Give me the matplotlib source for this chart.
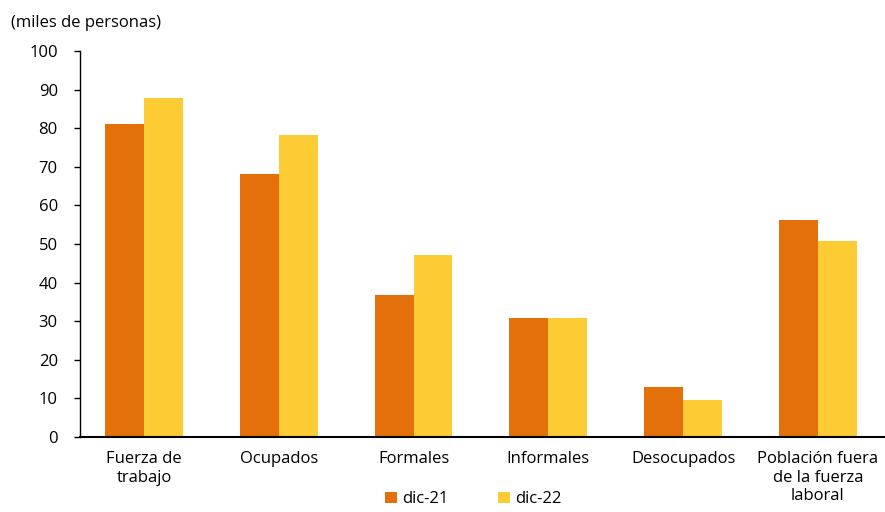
import numpy as np
import matplotlib.pyplot as plt

categorias = ["Fuerza de\ntrabajo", "Ocupados", "Formales", "Informales",
              "Desocupados", "Población fuera\nde la fuerza\nlaboral"]
dic21 = [81.1, 68.1, 36.8, 30.8, 13.0, 56.2]
dic22 = [87.8, 78.2, 47.2, 30.8, 9.6, 50.8]

plt.rcParams['font.family'] = ['Open Sans', 'DejaVu Sans']

fig = plt.figure(figsize=(8.85, 5.12), dpi=100)
ax = fig.add_axes([0.0904, 0.1465, 0.9085, 0.754])

x = np.arange(len(categorias))
w = 0.289
ax.bar(x - w / 2, dic21, w, color='#E3700B', label='dic-21')
ax.bar(x + w / 2, dic22, w, color='#FDCB33', label='dic-22')

ax.set_xlim(-0.474, len(categorias) - 0.51)
ax.set_ylim(0, 100)
ax.set_yticks(range(0, 101, 10))
ax.set_xticks(x)
ax.set_xticklabels(categorias, fontsize=12, linespacing=1.22)
ax.tick_params(axis='y', labelsize=12, direction='out', length=4, width=1, pad=12)
ax.tick_params(axis='x', length=0, pad=10)

for s in ['top', 'right']:
    ax.spines[s].set_visible(False)
ax.spines['left'].set_linewidth(1)
ax.spines['bottom'].set_linewidth(1.5)

fig.text(0.012, 0.955, "(miles de personas)", fontsize=12, va='center')

fig.legend(loc='center', bbox_to_anchor=(0.535, 0.025), ncol=2, frameon=False,
           fontsize=12, handlelength=0.7, handleheight=0.7, columnspacing=3,
           handletextpad=0.3)

fig.savefig('out.png', dpi=100)
